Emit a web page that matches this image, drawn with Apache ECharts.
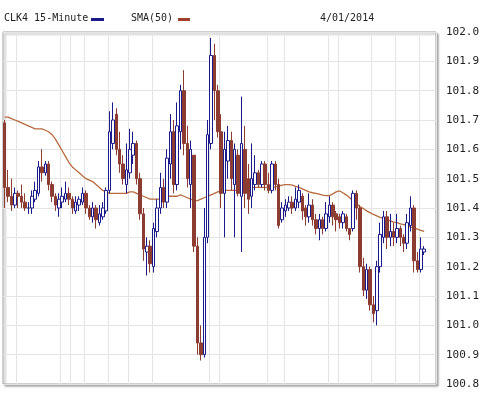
<!DOCTYPE html>
<html><head><meta charset="utf-8">
<script src="https://cdn.jsdelivr.net/npm/echarts@6/dist/echarts.min.js"></script>
<style>html,body{margin:0;padding:0;background:#fff}#c{width:488px;height:406px}</style>
</head><body><div id="c"></div>
<script>
// [open, close, low, high]
const ohlc = [
[101.69,101.47,101.40,101.70],[101.47,101.44,101.42,101.53],[101.44,101.41,101.39,101.50],[101.41,101.45,101.40,101.47],[101.45,101.44,101.40,101.46],
[101.44,101.42,101.40,101.48],[101.42,101.40,101.39,101.45],[101.40,101.40,101.38,101.42],[101.40,101.44,101.38,101.46],[101.43,101.46,101.42,101.49],
[101.45,101.54,101.44,101.56],[101.54,101.52,101.49,101.60],[101.52,101.55,101.51,101.56],[101.55,101.48,101.46,101.56],[101.48,101.44,101.42,101.49],
[101.44,101.41,101.39,101.45],[101.40,101.43,101.37,101.45],[101.42,101.44,101.40,101.47],[101.43,101.45,101.42,101.49],[101.45,101.43,101.41,101.47],
[101.43,101.40,101.38,101.44],[101.39,101.42,101.38,101.44],[101.41,101.43,101.39,101.44],[101.42,101.45,101.41,101.47],[101.45,101.40,101.38,101.46],
[101.40,101.37,101.36,101.41],[101.37,101.40,101.35,101.42],[101.40,101.36,101.33,101.41],[101.35,101.38,101.34,101.41],[101.37,101.40,101.36,101.42],
[101.39,101.46,101.38,101.47],[101.46,101.66,101.45,101.73],[101.62,101.70,101.60,101.76],[101.72,101.60,101.58,101.74],[101.60,101.55,101.52,101.66],
[101.55,101.50,101.48,101.58],[101.48,101.53,101.45,101.62],[101.52,101.60,101.50,101.67],[101.58,101.62,101.55,101.66],[101.62,101.50,101.48,101.63],
[101.50,101.38,101.36,101.52],[101.38,101.26,101.22,101.40],[101.25,101.27,101.17,101.30],[101.27,101.21,101.18,101.29],[101.20,101.33,101.18,101.35],
[101.32,101.40,101.30,101.43],[101.40,101.47,101.38,101.52],[101.47,101.42,101.40,101.50],[101.42,101.57,101.40,101.60],[101.55,101.66,101.50,101.72],
[101.66,101.48,101.45,101.70],[101.48,101.68,101.46,101.76],[101.66,101.80,101.60,101.82],[101.80,101.62,101.58,101.87],[101.62,101.50,101.47,101.68],
[101.48,101.60,101.40,101.63],[101.58,101.27,101.25,101.53],[101.27,100.94,100.90,101.30],[100.94,100.90,100.88,101.00],[100.90,101.30,100.89,101.40],
[101.30,101.65,101.28,101.70],[101.62,101.92,101.60,101.98],[101.92,101.80,101.70,101.96],[101.80,101.66,101.64,101.82],[101.66,101.45,101.40,101.72],
[101.45,101.60,101.30,101.66],[101.56,101.63,101.50,101.68],[101.63,101.50,101.46,101.66],[101.48,101.60,101.30,101.62],[101.58,101.45,101.44,101.60],
[101.44,101.62,101.25,101.78],[101.60,101.45,101.40,101.68],[101.50,101.43,101.38,101.55],[101.44,101.50,101.40,101.62],[101.48,101.52,101.46,101.58],
[101.52,101.48,101.47,101.53],[101.48,101.55,101.47,101.56],[101.55,101.48,101.46,101.56],[101.48,101.46,101.45,101.52],[101.46,101.55,101.45,101.56],
[101.55,101.48,101.46,101.56],[101.48,101.34,101.33,101.50],[101.36,101.40,101.35,101.42],[101.39,101.41,101.37,101.43],[101.40,101.42,101.39,101.44],
[101.42,101.40,101.38,101.44],[101.40,101.43,101.39,101.47],[101.42,101.46,101.40,101.48],[101.44,101.39,101.36,101.45],[101.40,101.37,101.34,101.41],
[101.37,101.41,101.35,101.45],[101.41,101.36,101.34,101.43],[101.36,101.33,101.31,101.38],[101.33,101.36,101.29,101.38],[101.36,101.33,101.31,101.37],
[101.33,101.38,101.32,101.42],[101.37,101.41,101.35,101.44],[101.41,101.37,101.34,101.42],[101.38,101.36,101.32,101.39],[101.37,101.35,101.33,101.38],
[101.35,101.38,101.33,101.39],[101.37,101.33,101.32,101.38],[101.33,101.31,101.29,101.33],[101.33,101.45,101.32,101.46],[101.45,101.40,101.36,101.46],
[101.40,101.20,101.18,101.41],[101.20,101.12,101.10,101.23],[101.12,101.19,101.09,101.21],[101.19,101.07,101.05,101.20],[101.07,101.04,101.01,101.10],
[101.05,101.20,101.00,101.22],[101.20,101.31,101.18,101.35],[101.30,101.37,101.28,101.39],[101.37,101.30,101.26,101.39],[101.30,101.32,101.27,101.38],
[101.32,101.30,101.27,101.35],[101.30,101.33,101.28,101.38],[101.33,101.30,101.27,101.34],[101.30,101.28,101.25,101.31],[101.28,101.35,101.26,101.38],
[101.34,101.40,101.32,101.44],[101.40,101.22,101.18,101.41],[101.22,101.19,101.18,101.25],[101.19,101.26,101.18,101.30],[101.25,101.26,101.24,101.27]
];
const sma = [
101.71,101.71,101.705,101.70,101.695,101.69,101.685,101.68,101.675,101.67,
101.67,101.67,101.665,101.66,101.65,101.635,101.615,101.595,101.575,101.555,
101.54,101.53,101.52,101.51,101.50,101.495,101.49,101.48,101.47,101.46,
101.455,101.45,101.45,101.45,101.45,101.45,101.45,101.455,101.455,101.45,
101.445,101.44,101.435,101.43,101.43,101.43,101.43,101.435,101.44,101.44,
101.44,101.44,101.445,101.44,101.435,101.43,101.425,101.425,101.43,101.435,
101.44,101.445,101.45,101.455,101.46,101.46,101.46,101.46,101.46,101.46,
101.462,101.465,101.467,101.47,101.47,101.47,101.47,101.47,101.47,101.47,
101.472,101.475,101.478,101.48,101.48,101.478,101.474,101.47,101.465,101.46,
101.455,101.452,101.45,101.447,101.444,101.442,101.442,101.448,101.455,101.458,
101.452,101.444,101.435,101.425,101.415,101.405,101.398,101.39,101.384,101.378,
101.373,101.368,101.364,101.36,101.356,101.352,101.35,101.346,101.343,101.34,
101.335,101.332,101.328,101.324,101.32
];
const categories = Array.from({length:128},(_,i)=>String(i));
const gridIdx = [4,17,20,24,31,37,44,61,64,78,83,96,99,109,116,123];

const chart = echarts.init(document.getElementById('c'));
const font = 'DejaVu Sans Mono';
chart.setOption({
  animation:false,
  grid:{left:3,right:52,top:32,bottom:22,show:true,borderColor:'#a0a0a0',borderWidth:1,
        shadowColor:'rgba(0,0,0,0.35)',shadowOffsetX:2,shadowOffsetY:2,shadowBlur:2,backgroundColor:'#fff'},
  xAxis:{type:'category',data:categories,boundaryGap:true,
    axisLine:{show:false},axisTick:{show:false},axisLabel:{show:false},
    splitLine:{show:true,interval:(i)=>gridIdx.includes(i),lineStyle:{color:'#e4e4e4'}}},
  yAxis:{type:'value',position:'right',min:100.8,max:102.0,interval:0.1,scale:true,
    axisLine:{show:false},axisTick:{show:false},
    axisLabel:{fontFamily:font,fontSize:11,color:'#222',margin:10,formatter:v=>v.toFixed(1)},
    splitLine:{lineStyle:{color:'#e4e4e4'}}},
  series:[
    {type:'candlestick',data:ohlc,barWidth:3,
     itemStyle:{color:'#ffffff',color0:'#8c3c30',borderColor:'#1a1a8a',borderColor0:'#8c3c30',borderWidth:1}},
    {type:'line',data:sma,showSymbol:false,smooth:false,lineStyle:{color:'#b86a3e',width:1.3},z:1}
  ],
  graphic:[
    {type:'text',left:4,top:13,style:{text:'CLK4 15-Minute',font:'10px '+font,fill:'#222'}},
    {type:'rect',shape:{x:91,y:18,width:13,height:3},style:{fill:'#1a1a8a'}},
    {type:'text',left:131,top:13,style:{text:'SMA(50)',font:'10px '+font,fill:'#222'}},
    {type:'rect',shape:{x:178,y:18,width:12,height:3},style:{fill:'#a0402a'}},
    {type:'text',left:320,top:13,style:{text:'4/01/2014',font:'10px '+font,fill:'#222'}}
  ]
});
</script></body></html>
